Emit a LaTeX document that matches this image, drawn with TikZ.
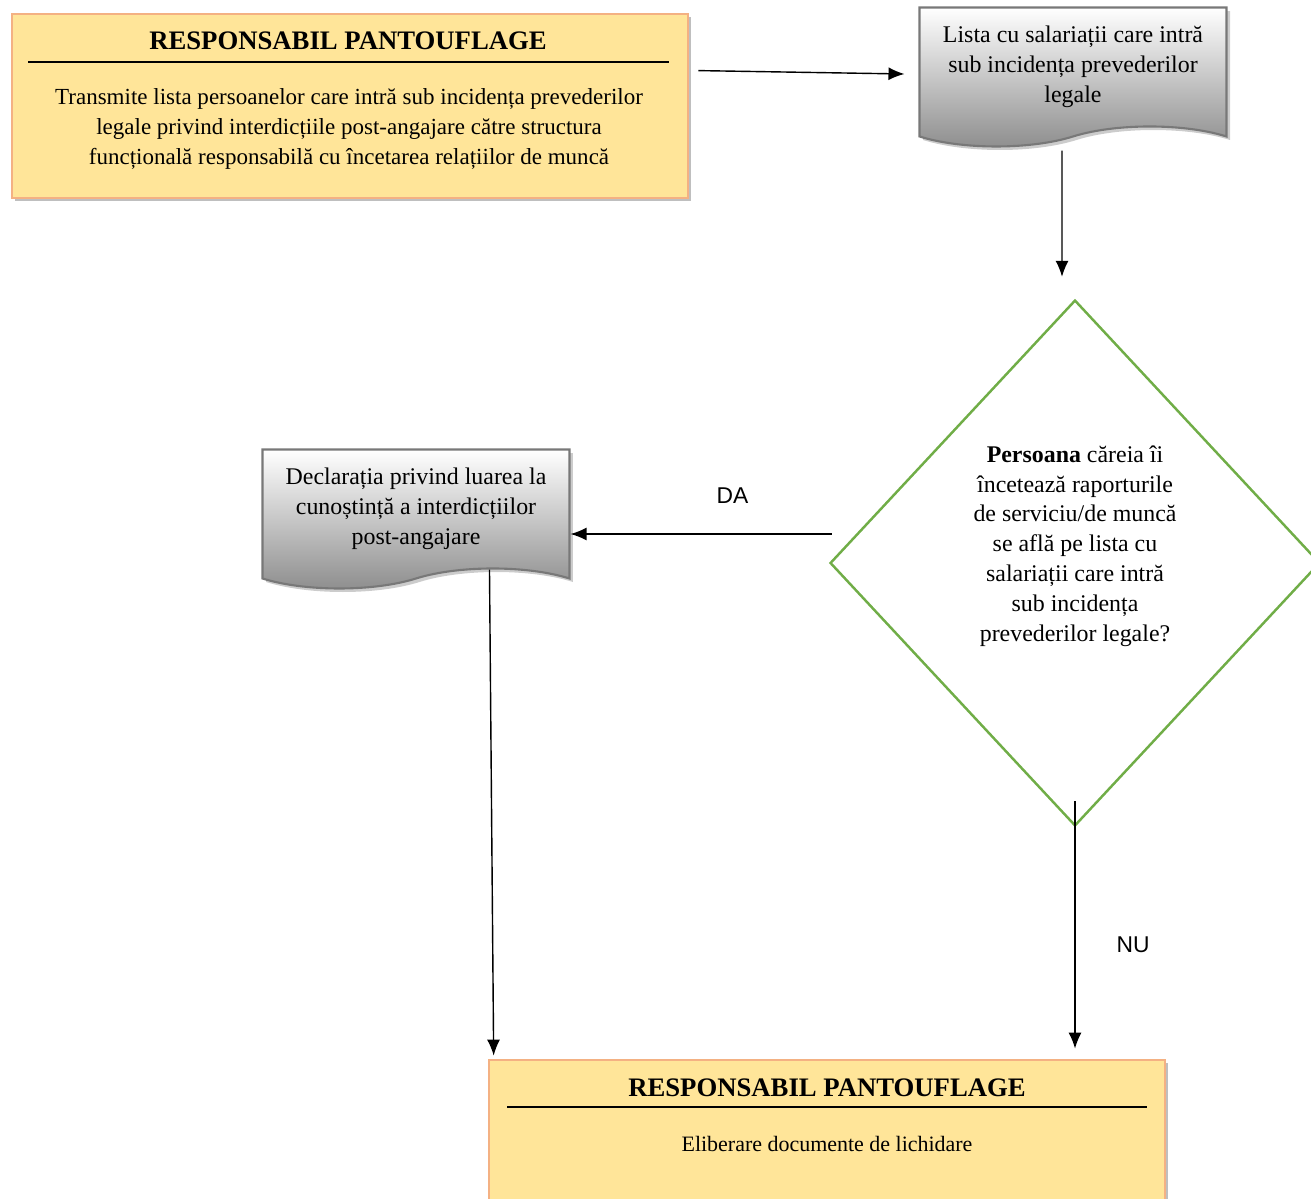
\documentclass[tikz,border=0pt]{standalone}
\usepackage{fontspec}
\setmainfont{Liberation Serif}
\newfontfamily\labelfont{Liberation Sans}
\usetikzlibrary{
    arrows.meta,
    calc,
    positioning,
    shadows,
    shapes.geometric,
    shapes.symbols
}
\definecolor{boxyellow}{RGB}{255,229,153}
\definecolor{boxorange}{RGB}{244,177,131}
\definecolor{docgray}{RGB}{120,120,120}
\definecolor{decgreen}{RGB}{112,173,71}
\tikzset{
    % Box styles
    resp box/.style={
        draw=boxorange,
        fill=boxyellow,
        line width=1.6pt,
        rectangle,
        minimum width=13.52cm,
        minimum height=3.68cm,
        drop shadow={shadow xshift=1.6pt, shadow yshift=-1.6pt, fill=black!50}
    },
    doc box/.style={
        tape,
        tape bend top=none,
        tape bend bottom=in and out,
        tape bend height=0.4cm,
        draw=docgray,
        line width=1.2pt,
        top color=white,
        bottom color=black!45,
        minimum width=6.14cm,
        minimum height=2.78cm,
        align=center,
        font=\fontsize{13.6}{17}\selectfont,
        drop shadow={shadow xshift=2pt, shadow yshift=-2pt, fill=black!40}
    },
    decision box/.style={
        diamond,
        draw=decgreen,
        line width=1.4pt,
        minimum width=9.8cm,
        minimum height=10.52cm,
        inner sep=0pt
    },
    % Text styles
    title text/.style={
        font=\bfseries\fontsize{15.2}{18}\selectfont
    },
    body text/.style={
        align=center,
        font=\fontsize{13.1}{17}\selectfont
    },
    branch label/.style={
        font=\labelfont\fontsize{13}{15}\selectfont
    },
    % Arrow styles
    flow arrow/.style={
        -{Latex[length=0.32cm,width=0.26cm]},
        line width=0.8pt,
        black
    }
}

\begin{document}
\begin{tikzpicture}[x=0.02cm, y=-0.02cm]
    \useasboundingbox (0,0) rectangle (1311,1199);

    % top responsible box
    \node[resp box] (resp top) at (350,106) {};
    \node[title text] (resp top title) at (348,41) {RESPONSABIL PANTOUFLAGE};
    \draw[line width=1pt] (28,62) -- (669,62);
    \node[body text] (resp top text) at (349,129)
        {Transmite lista persoanelor care intră sub incidența prevederilor\\
         legale privind interdicțiile post-angajare către structura\\
         funcțională responsabilă cu încetarea relațiilor de muncă};

    % documents
    \node[doc box] (lista) at (1073,67)
        {Lista cu salariații care intră\\ sub incidența prevederilor\\ legale};
    \node[doc box] (declaratie) at (416,509)
        {Declarația privind luarea la\\ cunoștință a interdicțiilor\\ post-angajare};

    % decision
    \node[decision box] (decision) at (1075,563) {};
    \node[body text, font=\fontsize{13.6}{17}\selectfont] (decision text) at (1075,546)
        {\textbf{Persoana} căreia îi\\ încetează raporturile\\ de serviciu/de muncă\\
         se află pe lista cu\\ salariații care intră\\ sub incidența\\ prevederilor legale?};

    % bottom responsible box
    \node[resp box, minimum height=4cm] (resp bottom) at (827,1160) {};
    \node[title text] (resp bottom title) at (827,1088) {RESPONSABIL PANTOUFLAGE};
    \draw[line width=1pt] (507,1107) -- (1147,1107);
    \node[body text, font=\fontsize{12.5}{17}\selectfont] (resp bottom text) at (827,1144)
        {Eliberare documente de lichidare};

    % connectors
    \draw[flow arrow] ([xshift=0.18cm, yshift=-1.16cm]resp top.north east)
        -- ([xshift=-0.28cm, yshift=-0.14cm]lista.west);
    \draw[flow arrow] ([xshift=-0.22cm, yshift=-0.46cm]lista.south)
        -- ([xshift=-0.26cm, yshift=0.44cm]decision.north);
    \coordinate (da start) at ([xshift=0.06cm, yshift=0.58cm]decision.west);
    \draw[flow arrow] (da start) -- (da start -| declaratie.east)
        node[branch label, pos=0.38, yshift=0.76cm] {DA};
    \draw[flow arrow] ([xshift=1.47cm]declaratie.south)
        -- ([xshift=0.12cm, yshift=0.06cm]resp bottom.north west);
    \draw[flow arrow] ([yshift=0.52cm]decision.south)
        -- ([yshift=0.2cm]decision.south |- resp bottom.north)
        node[branch label, pos=0.58, xshift=1.16cm] {NU};
\end{tikzpicture}
\end{document}
